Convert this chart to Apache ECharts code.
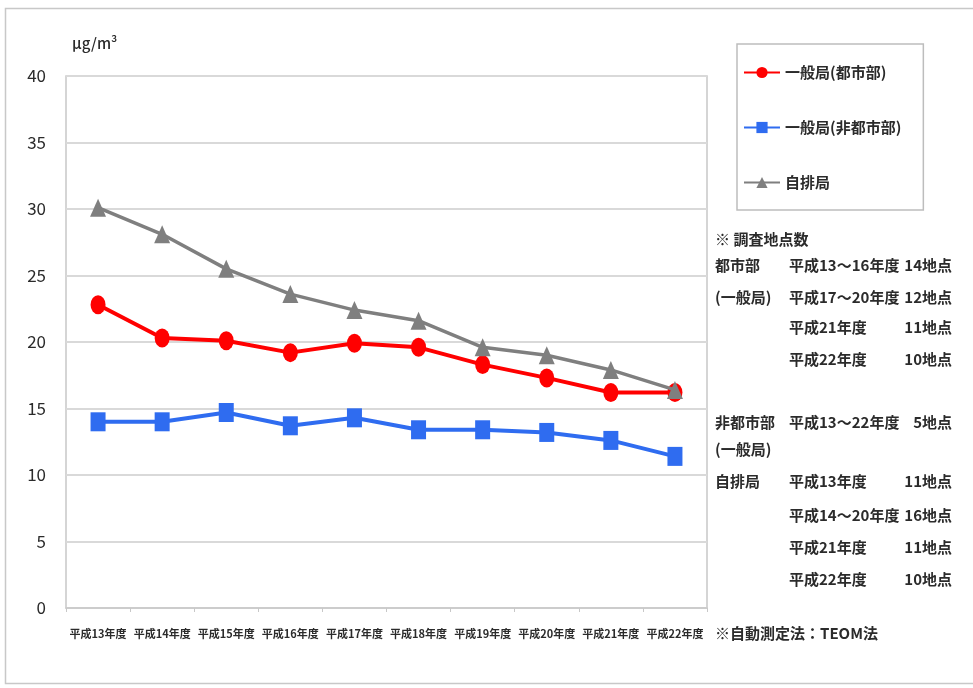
<!DOCTYPE html>
<html>
<head>
<meta charset="utf-8">
<script src="https://cdn.jsdelivr.net/npm/echarts@6/dist/echarts.min.js"></script>
<style>
html,body{margin:0;padding:0;background:#fff;}
#chart{width:973px;height:688px;}
</style>
</head>
<body>
<div id="chart"></div>
<script>
// Fiscal years (Heisei 13–22)
const categories = ['平成13年度','平成14年度','平成15年度','平成16年度','平成17年度','平成18年度','平成19年度','平成20年度','平成21年度','平成22年度'];
// Annual mean concentrations (μg/m³)
const urbanGeneral = [22.8, 20.3, 20.1, 19.2, 19.9, 19.6, 18.3, 17.3, 16.2, 16.2];
const nonUrbanGeneral = [14.0, 14.0, 14.7, 13.7, 14.3, 13.4, 13.4, 13.2, 12.6, 11.4];
const roadside = [30.1, 28.1, 25.5, 23.6, 22.4, 21.6, 19.6, 19.0, 17.9, 16.4];
const seriesNames = ['一般局(都市部)', '一般局(非都市部)', '自排局'];
const yTicks = { min: 0, max: 40, interval: 5 };

// Survey-site notes shown to the right of the plot
const noteTitle = '※ 調査地点数';
const noteRows = [
  ['都市部', '平成13～16年度', '14地点'],
  ['(一般局)', '平成17～20年度', '12地点'],
  ['', '平成21年度', '11地点'],
  ['', '平成22年度', '10地点'],
  ['非都市部', '平成13～22年度', '5地点'],
  ['(一般局)', '', ''],
  ['自排局', '平成13年度', '11地点'],
  ['', '平成14～20年度', '16地点'],
  ['', '平成21年度', '11地点'],
  ['', '平成22年度', '10地点']
];
const noteRowY = [268, 300, 330, 362, 425, 452, 484, 518, 550, 582];
const methodNote = '※自動測定法：TEOM法';

const FONT = '"Noto Sans CJK JP", "Noto Sans", sans-serif';
const TXT = '#2b2b2b';

const graphics = [
  { type: 'rect', shape: { x: 5.5, y: 8.5, width: 980, height: 675 }, style: { fill: 'none', stroke: '#c8c8c8', lineWidth: 1.5 }, silent: true },
  { type: 'text', left: 72, top: 36, style: { text: 'μg/m³', font: '500 15px ' + FONT, fill: TXT } },
  { type: 'text', left: 715, top: 232, style: { text: noteTitle, font: 'bold 15px ' + FONT, fill: TXT } },
  { type: 'text', left: 715, top: 626, style: { text: methodNote, font: 'bold 15px ' + FONT, fill: TXT } }
];
noteRows.forEach((r, i) => {
  const y = noteRowY[i] - 10;
  if (r[0]) graphics.push({ type: 'text', left: 715, top: y, style: { text: r[0], font: 'bold 15px ' + FONT, fill: TXT } });
  if (r[1]) graphics.push({ type: 'text', left: 789, top: y, style: { text: r[1], font: 'bold 15px ' + FONT, fill: TXT } });
  if (r[2]) graphics.push({ type: 'text', right: 973 - 952, top: y, style: { text: r[2], font: 'bold 15px ' + FONT, fill: TXT } });
});

const chart = echarts.init(document.getElementById('chart'));
chart.setOption({
  animation: false,
  backgroundColor: '#fff',
  textStyle: { fontFamily: FONT },
  grid: { left: 66, right: 266, top: 76, bottom: 80, show: true, borderColor: '#c8c8c8', borderWidth: 1.5, backgroundColor: '#fff' },
  legend: {
    orient: 'vertical',
    left: 737, top: 44,
    padding: [21, 22, 20, 6],
    itemGap: 40,
    itemWidth: 36, itemHeight: 14,
    borderColor: '#bdbdbd', borderWidth: 1.5,
    textStyle: { fontSize: 15, fontWeight: 'bold', color: TXT, fontFamily: FONT },
    data: seriesNames
  },
  xAxis: {
    type: 'category',
    data: categories,
    boundaryGap: true,
    axisLine: { lineStyle: { color: '#c8c8c8', width: 1.5 } },
    axisTick: { show: true, length: 4, lineStyle: { color: '#c8c8c8' } },
    axisLabel: { color: TXT, fontSize: 11, fontWeight: 'bold', margin: 20, interval: 0 }
  },
  yAxis: {
    type: 'value',
    min: yTicks.min, max: yTicks.max, interval: yTicks.interval,
    axisLine: { show: false },
    axisTick: { show: false },
    axisLabel: { color: TXT, fontSize: 17, margin: 20 },
    splitLine: { lineStyle: { color: '#d9d9d9', width: 2 } }
  },
  series: [
    {
      name: seriesNames[0], type: 'line', data: urbanGeneral, z: 3,
      symbol: 'circle', symbolSize: [15, 19],
      itemStyle: { color: '#ff0000' },
      lineStyle: { color: '#ff0000', width: 4 }
    },
    {
      name: seriesNames[1], type: 'line', data: nonUrbanGeneral, z: 3,
      symbol: 'rect', symbolSize: [15, 19],
      itemStyle: { color: '#2f6cf0' },
      lineStyle: { color: '#2f6cf0', width: 4 }
    },
    {
      name: seriesNames[2], type: 'line', data: roadside, z: 4,
      symbol: 'triangle', symbolSize: [16, 18],
      itemStyle: { color: '#7f7f7f' },
      lineStyle: { color: '#7f7f7f', width: 3.5 }
    }
  ],
  graphic: graphics
});
</script>
</body>
</html>
